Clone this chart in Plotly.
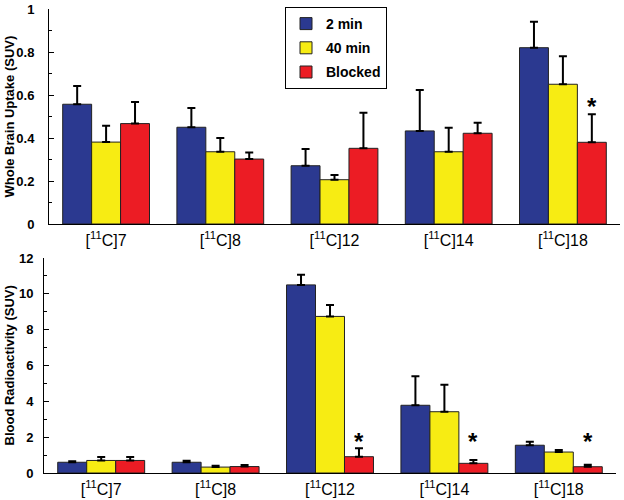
import plotly.graph_objects as go

categories = ["[<sup>11</sup>C]7", "[<sup>11</sup>C]8", "[<sup>11</sup>C]12",
              "[<sup>11</sup>C]14", "[<sup>11</sup>C]18"]
series_names = ["2 min", "40 min", "Blocked"]

brain_2min = [0.557, 0.450, 0.271, 0.433, 0.820]
brain_2min_err = [0.085, 0.090, 0.078, 0.190, 0.121]
brain_40min = [0.381, 0.336, 0.206, 0.336, 0.650]
brain_40min_err = [0.076, 0.064, 0.022, 0.112, 0.130]
brain_blocked = [0.467, 0.302, 0.352, 0.422, 0.380]
brain_blocked_err = [0.100, 0.031, 0.166, 0.049, 0.130]

blood_2min = [0.60, 0.60, 10.50, 3.78, 1.55]
blood_2min_err = [0.05, 0.08, 0.57, 1.62, 0.20]
blood_40min = [0.70, 0.33, 8.74, 3.42, 1.17]
blood_40min_err = [0.20, 0.07, 0.63, 1.51, 0.11]
blood_blocked = [0.70, 0.36, 0.91, 0.54, 0.35]
blood_blocked_err = [0.20, 0.09, 0.47, 0.18, 0.11]

brain_sig = [4]          # indices with asterisk (top)
blood_sig = [2, 3, 4]    # indices with asterisk (bottom)

colors = ["#2b3990", "#f7ec13", "#ec1c24"]
FONT = "Liberation Sans, Arial, sans-serif"

fig = go.Figure()

brain = [(brain_2min, brain_2min_err), (brain_40min, brain_40min_err), (brain_blocked, brain_blocked_err)]
blood = [(blood_2min, blood_2min_err), (blood_40min, blood_40min_err), (blood_blocked, blood_blocked_err)]

for i, (vals, errs) in enumerate(brain):
    fig.add_trace(go.Bar(
        x=categories, y=vals, name=series_names[i], marker_color=colors[i],
        marker_line=dict(color="#222222", width=1),
        error_y=dict(type="data", array=errs, arrayminus=[0]*len(errs), symmetric=False,
                     color="black", thickness=2, width=4),
        xaxis="x", yaxis="y", legendgroup=series_names[i], offsetgroup=str(i)))
for i, (vals, errs) in enumerate(blood):
    fig.add_trace(go.Bar(
        x=categories, y=vals, name=series_names[i], marker_color=colors[i],
        marker_line=dict(color="#222222", width=1),
        error_y=dict(type="data", array=errs, arrayminus=[0]*len(errs), symmetric=False,
                     color="black", thickness=2, width=4),
        xaxis="x2", yaxis="y2", legendgroup=series_names[i], offsetgroup=str(i),
        showlegend=False))

W, H = 624, 500
mt, mb = 9, 27
ph = H - mt - mb

tickfont_y = dict(family=FONT, size=13, color="black", weight="bold")
tickfont_x = dict(family=FONT, size=16, color="black")

fig.update_layout(
    width=W, height=H, margin=dict(l=0, r=0, t=mt, b=mb),
    paper_bgcolor="white", plot_bgcolor="white",
    barmode="group", bargap=0.24, bargroupgap=0,
    showlegend=True,
    legend=dict(x=285 / W, y=(H - mb - 7) / ph, xanchor="left", yanchor="top",
                bordercolor="black", borderwidth=1, bgcolor="white",
                font=dict(family=FONT, size=14, color="black", weight="bold"),
                traceorder="grouped", tracegroupgap=3),
    xaxis=dict(domain=[49 / W, 620 / W], anchor="y", showline=True, linecolor="black",
               linewidth=1, ticks="", tickfont=tickfont_x, showgrid=False, automargin=False,
               ticklabelstandoff=2),
    yaxis=dict(domain=[(H - mb - 224) / ph, 1], anchor="x", range=[0, 1], showline=True,
               linecolor="black", linewidth=1, ticks="inside", ticklen=5, tickcolor="black",
               dtick=0.2, tickformat="~g", tickfont=tickfont_y, showgrid=False, zeroline=False,
               minor=dict(ticks="inside", ticklen=3, dtick=0.1, tickcolor="black"),
               automargin=False, ticklabelstandoff=11),
    xaxis2=dict(domain=[44 / W, 616 / W], anchor="y2", showline=True, linecolor="black",
                linewidth=1, ticks="", tickfont=tickfont_x, showgrid=False, automargin=False,
                ticklabelstandoff=2),
    yaxis2=dict(domain=[0, (H - mb - 258) / ph], anchor="x2", range=[0, 12], showline=True,
                linecolor="black", linewidth=1, ticks="inside", ticklen=5, tickcolor="black",
                dtick=2, tickfont=tickfont_y, showgrid=False, zeroline=False,
                minor=dict(ticks="inside", ticklen=3, dtick=1, tickcolor="black"),
                automargin=False, ticklabelstandoff=7),
)

# y-axis titles
fig.add_annotation(text="Whole Brain Uptake (SUV)", textangle=-90, xref="paper", yref="y domain",
                   x=9 / W, y=0.5, xanchor="center", yanchor="middle", showarrow=False,
                   font=dict(family=FONT, size=13, color="black", weight="bold"))
fig.add_annotation(text="Blood Radioactivity (SUV)", textangle=-90, xref="paper", yref="y2 domain",
                   x=9 / W, y=0.5, xanchor="center", yanchor="middle", showarrow=False,
                   font=dict(family=FONT, size=13, color="black", weight="bold"))

# significance asterisks
for idx in brain_sig:
    fig.add_annotation(text="*", x=categories[idx], y=brain_blocked[idx] + brain_blocked_err[idx],
                       xref="x", yref="y", xshift=29, yshift=8, showarrow=False,
                       font=dict(family=FONT, size=24, color="black", weight="bold"))
for idx in blood_sig:
    fig.add_annotation(text="*", x=categories[idx], y=1.75,
                       xref="x2", yref="y2", xshift=29, showarrow=False,
                       font=dict(family=FONT, size=24, color="black", weight="bold"))

fig.write_html("out.html", post_script="document.body.style.margin='0';",
               config={"displayModeBar": False})
